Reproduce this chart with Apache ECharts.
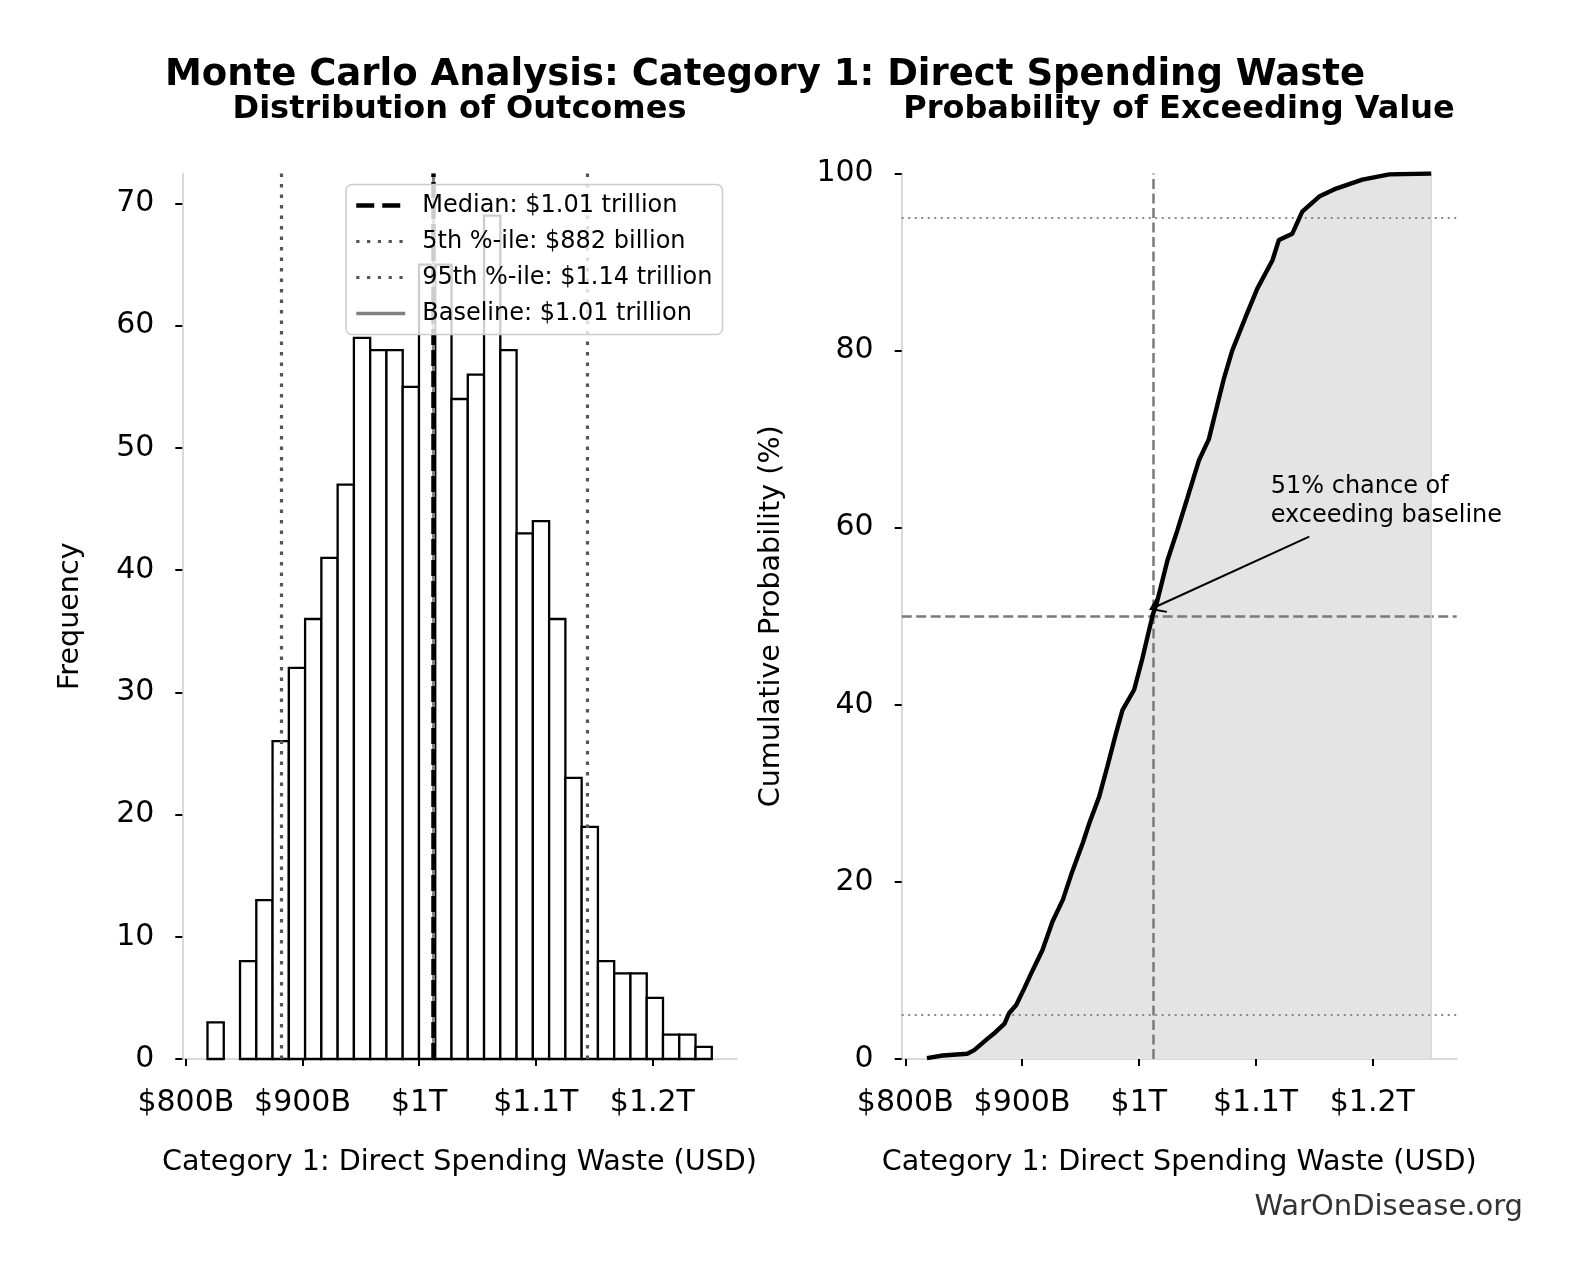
<!DOCTYPE html>
<html>
<head>
<meta charset="utf-8">
<script src="https://cdn.jsdelivr.net/npm/echarts@6/dist/echarts.min.js"></script>
<style>
  html, body { margin: 0; padding: 0; background: #fff; }
</style>
</head>
<body>
<div id="main" style="width: 1581px; height: 1280px;"></div>
<script>
// histogram bins (billions of USD) and counts
var binEdges = [818.5, 832.45, 846.4, 860.35, 874.3, 888.25, 902.2, 916.15, 930.1, 944.05,
                958.0, 971.95, 985.9, 999.85, 1013.8, 1027.75, 1041.7, 1055.65, 1069.6, 1083.55,
                1097.5, 1111.45, 1125.4, 1139.35, 1153.3, 1167.25, 1181.2, 1195.15, 1209.1, 1223.05,
                1237.0, 1250.95];
var binCounts = [3, 0, 8, 13, 26, 32, 36, 41, 47, 59, 58, 58, 55, 65, 65, 54,
                 56, 69, 58, 43, 44, 36, 23, 19, 8, 7, 7, 5, 2, 2, 1];

// reference values (billions)
var median = 1012.3;
var p5 = 881.5;
var p95 = 1144.5;
var baseline = 1012.5;

var cdfX = [818.5, 832, 853, 859, 870.5, 877, 885, 889, 895, 902, 909, 917.5, 926, 935, 942, 952,
            957.5, 966, 973, 980.5, 986, 996, 1003, 1007.5, 1012, 1015, 1024.5, 1033,
            1041.5, 1051.5, 1060, 1067.5, 1073, 1080, 1091.5, 1101.5, 1114.5, 1120,
            1131.5, 1140, 1154.5, 1169, 1191.5, 1214.5, 1250.5];
var cdfY = [0.1, 0.4, 0.6, 1.0, 2.3, 3.0, 4.0, 5.2, 6.1, 8.0, 10.0, 12.3, 15.5, 18.0, 20.8, 24.4,
            26.6, 29.6, 33.0, 36.8, 39.4, 41.7, 45.2, 47.7, 50.2, 51.3, 56.3, 59.7,
            63.3, 67.6, 70.0, 74.0, 76.9, 80.0, 83.8, 87.0, 90.2, 92.5,
            93.2, 95.7, 97.4, 98.3, 99.3, 99.9, 100];

var xTicks = [800, 900, 1000, 1100, 1200];
var freqTicks = [0, 10, 20, 30, 40, 50, 60, 70];

var legendNames = ['Median: $1.01 trillion', '5th %-ile: $882 billion',
                   '95th %-ile: $1.14 trillion', 'Baseline: $1.01 trillion'];

var FONT = 'DejaVu Sans';
var chart = echarts.init(document.getElementById('main'));

var histData = [];
for (var i = 0; i < binCounts.length; i++) {
    histData.push([binEdges[i], binEdges[i + 1], binCounts[i]]);
}
var cdfData = cdfX.map(function (x, i) { return [x, cdfY[i]]; });

function fmtMoney(v) {
    if (v < 1000) return '$' + v + 'B';
    return '$' + (v / 1000) + 'T';
}

function renderHist(params, api) {
    var c = api.value(2);
    if (!c) return;
    var p0 = api.coord([api.value(0), c]);
    var p1 = api.coord([api.value(1), 0]);
    return {
        type: 'rect',
        shape: { x: p0[0], y: p0[1], width: p1[0] - p0[0], height: p1[1] - p0[1] },
        style: { fill: '#fff', stroke: '#000', lineWidth: 2.3 }
    };
}

function xAxisCfg(idx) {
    return {
        type: 'value', gridIndex: idx, min: 796.9, max: 1272.3,
        name: 'Category 1: Direct Spending Waste (USD)',
        nameLocation: 'middle', nameGap: 89,
        nameTextStyle: { fontSize: 28.6, color: '#000', fontFamily: FONT },
        axisLine: { lineStyle: { color: '#d9d9d9', width: 2 } },
        axisTick: { show: true, length: 7, lineStyle: { color: '#000', width: 2 }, customValues: xTicks },
        axisLabel: { fontSize: 30, color: '#000', margin: 29, fontFamily: FONT,
                     customValues: xTicks, formatter: fmtMoney },
        splitLine: { show: false }
    };
}

var chevron = 'path://M10,0 L20,14 L18.6,15.2 L10,3.6 L1.4,15.2 L0,14 Z';
var noDot = { color: 'rgba(0,0,0,0)', opacity: 0, borderWidth: 0 };

var option = {
    animation: false,
    textStyle: { fontFamily: FONT },
    title: [
        { text: 'Monte Carlo Analysis: Category 1: Direct Spending Waste', left: 765, top: 57,
          textAlign: 'center', padding: 0,
          textStyle: { fontSize: 37, fontWeight: 'bold', color: '#000', fontFamily: FONT } },
        { text: 'Distribution of Outcomes', left: 459.5, top: 93.5, textAlign: 'center', padding: 0,
          textStyle: { fontSize: 32, fontWeight: 'bold', color: '#000', fontFamily: FONT } },
        { text: 'Probability of Exceeding Value', left: 1179, top: 93.5, textAlign: 'center', padding: 0,
          textStyle: { fontSize: 32, fontWeight: 'bold', color: '#000', fontFamily: FONT } },
        { text: 'WarOnDisease.org', left: 1523, top: 1193, textAlign: 'right', padding: 0,
          textStyle: { fontSize: 29, fontWeight: 'normal', color: '#333', fontFamily: FONT } }
    ],
    legend: {
        orient: 'vertical', left: 346, top: 184.5,
        padding: [9, 10, 9, 8], itemGap: 12, itemWidth: 49, itemHeight: 14,
        backgroundColor: 'rgba(255,255,255,0.8)', borderColor: '#cccccc', borderWidth: 1.5,
        borderRadius: 6, z: 10, selectedMode: false,
        textStyle: { fontSize: 24, color: '#000', fontFamily: FONT, padding: [0, 0, 0, 12] },
        data: [
            { name: legendNames[0], itemStyle: noDot, lineStyle: { color: '#000', width: 4.5, type: [18, 8] } },
            { name: legendNames[1], itemStyle: noDot, lineStyle: { color: '#555', width: 3.2, type: [3.2, 7.6] } },
            { name: legendNames[2], itemStyle: noDot, lineStyle: { color: '#555', width: 3.2, type: [3.2, 7.6] } },
            { name: legendNames[3], itemStyle: noDot, lineStyle: { color: '#808080', width: 3.5, type: 'solid' } }
        ]
    },
    grid: [
        { left: 182.3, right: 844.3, top: 173.5, bottom: 221 },
        { left: 901.7, right: 124.3, top: 173.5, bottom: 221 }
    ],
    xAxis: [xAxisCfg(0), xAxisCfg(1)],
    yAxis: [
        { type: 'value', gridIndex: 0, min: 0, max: 72.45,
          name: 'Frequency', nameLocation: 'middle', nameGap: 97, nameRotate: 90,
          nameTextStyle: { fontSize: 28.6, color: '#000', fontFamily: FONT },
          axisLine: { show: true, lineStyle: { color: '#d9d9d9', width: 2 } },
          axisTick: { show: true, length: 7, lineStyle: { color: '#000', width: 2 }, customValues: freqTicks },
          axisLabel: { fontSize: 30, color: '#000', margin: 28, fontFamily: FONT, customValues: freqTicks },
          splitLine: { show: false } },
        { type: 'value', gridIndex: 1, min: 0, max: 100, interval: 20,
          name: 'Cumulative Probability (%)', nameLocation: 'middle', nameGap: 116, nameRotate: 90,
          nameTextStyle: { fontSize: 28.6, color: '#000', fontFamily: FONT },
          axisLine: { show: true, lineStyle: { color: '#d9d9d9', width: 2 } },
          axisTick: { show: true, length: 7, lineStyle: { color: '#000', width: 2 } },
          axisLabel: { fontSize: 30, color: '#000', margin: 28, fontFamily: FONT },
          splitLine: { show: false } }
    ],
    series: [
        // histogram
        { type: 'custom', name: 'hist', xAxisIndex: 0, yAxisIndex: 0,
          renderItem: renderHist, encode: { x: [0, 1], y: 2 }, data: histData, z: 2 },
        // reference lines on the histogram (baseline under the median)
        { type: 'line', name: legendNames[3], xAxisIndex: 0, yAxisIndex: 0, symbol: 'none',
          data: [[baseline, 0]], lineStyle: { color: '#808080', width: 3 }, itemStyle: { color: '#808080' }, z: 3,
          markLine: { silent: true, symbol: ['none', 'none'], label: { show: false }, z: 3,
                      lineStyle: { color: '#808080', width: 3, type: 'solid' },
                      data: [{ xAxis: baseline }] } },
        { type: 'line', name: legendNames[0], xAxisIndex: 0, yAxisIndex: 0, symbol: 'none',
          data: [[median, 0]], lineStyle: { color: '#000', width: 4 }, itemStyle: { color: '#000' }, z: 3,
          markLine: { silent: true, symbol: ['none', 'none'], label: { show: false }, z: 4,
                      lineStyle: { color: '#000', width: 4.5, type: [16, 5] },
                      data: [{ xAxis: median }] } },
        { type: 'line', name: legendNames[1], xAxisIndex: 0, yAxisIndex: 0, symbol: 'none',
          data: [[p5, 0]], lineStyle: { color: '#555', width: 3 }, itemStyle: { color: '#555' }, z: 3,
          markLine: { silent: true, symbol: ['none', 'none'], label: { show: false }, z: 3,
                      lineStyle: { color: '#555', width: 3.2, type: [3.5, 7] },
                      data: [{ xAxis: p5 }] } },
        { type: 'line', name: legendNames[2], xAxisIndex: 0, yAxisIndex: 0, symbol: 'none',
          data: [[p95, 0]], lineStyle: { color: '#555', width: 3 }, itemStyle: { color: '#555' }, z: 3,
          markLine: { silent: true, symbol: ['none', 'none'], label: { show: false }, z: 3,
                      lineStyle: { color: '#555', width: 3.2, type: [3.5, 7] },
                      data: [{ xAxis: p95 }] } },
        // CDF shaded area
        { type: 'line', name: 'cdfFill', xAxisIndex: 1, yAxisIndex: 1, symbol: 'none',
          data: cdfData, lineStyle: { width: 0 }, z: 1,
          areaStyle: { color: '#e4e4e4', opacity: 1 } },
        // CDF reference lines
        { type: 'line', name: 'cdfRefs', xAxisIndex: 1, yAxisIndex: 1, symbol: 'none',
          data: [[baseline, 50]], lineStyle: { width: 0 }, z: 2,
          markLine: { silent: true, symbol: ['none', 'none'], label: { show: false }, z: 2,
                      data: [
                          { yAxis: 5, lineStyle: { color: '#888', width: 2, type: [2, 4.5] } },
                          { yAxis: 95, lineStyle: { color: '#888', width: 2, type: [2, 4.5] } },
                          { yAxis: 50, lineStyle: { color: '#7a7a7a', width: 2.5, type: [10, 4.5] } },
                          { xAxis: baseline, lineStyle: { color: '#7a7a7a', width: 2.5, type: [10, 4.5] } },
                          { xAxis: cdfX[cdfX.length - 1], lineStyle: { color: '#d4d4d4', width: 1.5, type: 'solid' } }
                      ] } },
        // CDF line with annotation
        { type: 'line', name: 'cdf', xAxisIndex: 1, yAxisIndex: 1, symbol: 'none',
          data: cdfData, lineStyle: { color: '#000', width: 4.4 }, z: 4,
          markLine: { silent: true, z: 5, label: { show: false },
                      lineStyle: { color: '#000', width: 2, type: 'solid' },
                      data: [[
                          { coord: [1146, 59.0], symbol: 'none' },
                          { coord: [1015, 51.1], symbol: chevron, symbolSize: [20, 16] }
                      ]] },
          markPoint: { silent: true, symbol: 'circle', symbolSize: 0,
                       data: [{ coord: [1113, 63.0] }],
                       label: { show: true, position: 'right', distance: 0, align: 'left',
                                formatter: '51% chance of\nexceeding baseline',
                                fontSize: 24, lineHeight: 28.5, color: '#000', fontFamily: FONT } } }
    ]
};

chart.setOption(option);
</script>
</body>
</html>
